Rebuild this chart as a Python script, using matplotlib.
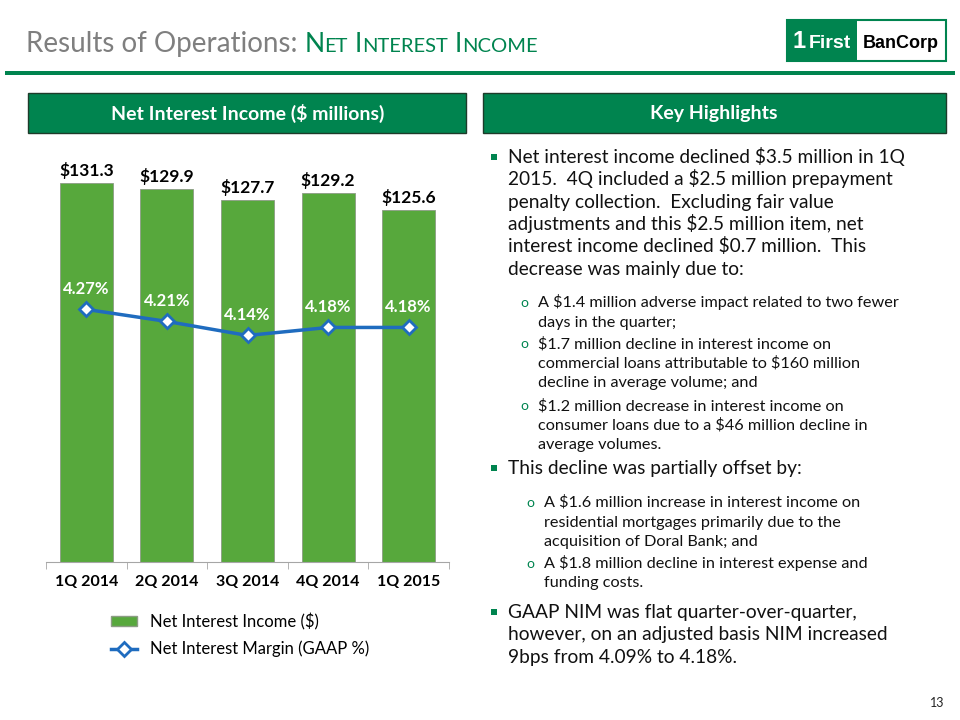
import numpy as np
import matplotlib
matplotlib.use("Agg")
import matplotlib.pyplot as plt
from matplotlib.patches import Rectangle, Patch
from matplotlib.lines import Line2D
from matplotlib.offsetbox import TextArea, HPacker, AnnotationBbox

plt.rcParams['font.family'] = ['Lato', 'DejaVu Sans']
plt.rcParams['text.parse_math'] = False

# chart data
quarters = ['1Q 2014', '2Q 2014', '3Q 2014', '4Q 2014', '1Q 2015']
nii = [131.3, 129.9, 127.7, 129.2, 125.6]      # net interest income, $ millions
nim = [4.27, 4.21, 4.14, 4.18, 4.18]           # net interest margin, GAAP %

legend_labels = ['Net Interest Income ($)', 'Net Interest Margin (GAAP %)']

# key highlights text: (level, first line y, lines)
highlights = [
    (0, 157, ["Net interest income declined $3.5 million in 1Q",
              "2015.  4Q included a $2.5 million prepayment",
              "penalty collection.  Excluding fair value",
              "adjustments and this $2.5 million item, net",
              "interest income declined $0.7 million.  This",
              "decrease was mainly due to:"]),
    (1, 302, ["A $1.4 million adverse impact related to two fewer",
              "days in the quarter;"]),
    (1, 343, ["$1.7 million decline in interest income on",
              "commercial loans attributable to $160 million",
              "decline in average volume; and"]),
    (1, 405, ["$1.2 million decrease in interest income on",
              "consumer loans due to a $46 million decline in",
              "average volumes."]),
    (0, 468, ["This decline was partially offset by:"]),
    (2, 502, ["A $1.6 million increase in interest income on",
              "residential mortgages primarily due to the",
              "acquisition of Doral Bank; and"]),
    (2, 563, ["A $1.8 million decline in interest expense and",
              "funding costs."]),
    (0, 612, ["GAAP NIM was flat quarter-over-quarter,",
              "however, on an adjusted basis NIM increased",
              "9bps from 4.09% to 4.18%."]),
]

GREEN = '#00844f'
BAR = '#57a83c'
BLUE = '#1f6cbf'
GRAY = '#7f7f7f'

W, H = 960, 720
fig = plt.figure(figsize=(9.6, 7.2), dpi=100)


def fx(x):
    return x / W


def fy(y):
    return 1 - y / H


def box(x0, y0, x1, y1, **kw):
    r = Rectangle((fx(x0), fy(y1)), (x1 - x0) / W, (y1 - y0) / H,
                  transform=fig.transFigure, **kw)
    fig.add_artist(r)


# title with small caps
def word(first, rest):
    return HPacker(children=[TextArea(first, textprops=dict(fontsize=19, color=GREEN)),
                             TextArea(rest, textprops=dict(fontsize=14.5, color=GREEN))],
                   align='baseline', pad=0, sep=0)


title = HPacker(children=[TextArea('Results of Operations:', textprops=dict(fontsize=20, color=GRAY)),
                          word('N', 'ET'), word('I', 'NTEREST'), word('I', 'NCOME')],
                align='baseline', pad=0, sep=5)
fig.add_artist(AnnotationBbox(title, (fx(26), fy(44)), xycoords='figure fraction',
                              box_alignment=(0, 0.5), frameon=False))

# green rule
box(5, 71, 955, 75, facecolor=GREEN, edgecolor='none')

# logo
box(787, 20, 946, 61, facecolor='white', edgecolor=GREEN, lw=1.5)
box(787, 20, 857, 61, facecolor=GREEN, edgecolor='none')
logo = dict(family=['Liberation Sans', 'DejaVu Sans'], fontweight='bold', va='baseline')
fig.text(fx(793), fy(48), '1', color='white', fontsize=17, **logo)
fig.text(fx(809), fy(48), 'First', color='white', fontsize=14, **logo)
fig.text(fx(901), fy(48), 'BanCorp', color='black', fontsize=13, ha='center', **logo)

# section headers
box(28, 93, 466, 133, facecolor=GREEN, edgecolor='#1e3b2a', lw=1)
box(483, 93, 946, 133, facecolor=GREEN, edgecolor='#1e3b2a', lw=1)
fig.text(fx(248), fy(113), 'Net Interest Income ($ millions)', color='white',
         fontsize=14, fontweight='bold', ha='center', va='center')
fig.text(fx(714), fy(113), 'Key Highlights', color='white',
         fontsize=14, fontweight='bold', ha='center', va='center')

# bar chart
x = np.arange(len(quarters))
ax = fig.add_axes([fx(46), fy(562), 403 / W, 425 / H])
ax.bar(x, nii, width=0.66, color=BAR, edgecolor='#8c9c84', lw=0.6, zorder=2)
ax.set_ylim(51, 141)
ax.set_xlim(-0.5, len(quarters) - 0.5)
for s in ['left', 'top', 'right']:
    ax.spines[s].set_visible(False)
ax.spines['bottom'].set_color('#a6a6a6')
ax.set_yticks([])
ax.set_xticks(x)
ax.set_xticklabels(quarters, fontsize=11.5, fontweight='bold')
ax.set_xticks(np.arange(-0.5, len(quarters), 1), minor=True)
ax.tick_params(axis='x', which='major', length=0, pad=9)
ax.tick_params(axis='x', which='minor', length=5, color='#a6a6a6')
ax.patch.set_visible(False)

for i, v in enumerate(nii):
    ax.annotate(f'${v:.1f}', (i, v), xytext=(0, 3), textcoords='offset points',
                ha='center', va='bottom', fontsize=12.5, fontweight='bold')

ax2 = ax.twinx()
ax2.plot(x, nim, color=BLUE, lw=2.5, marker='D', ms=7, mfc='white', mec=BLUE, mew=2, zorder=3)
ax2.set_ylim(3.01, 5.13)
ax2.axis('off')
for i, v in enumerate(nim):
    ax2.annotate(f'{v:.2f}%', (i, v), xytext=(0, 9), textcoords='offset points',
                 ha='center', va='bottom', fontsize=12, fontweight='bold', color='white')

handles = [Patch(facecolor=BAR, edgecolor='#8c9c84'),
           Line2D([], [], color=BLUE, lw=2.5, marker='D', ms=7, mfc='white', mec=BLUE, mew=2)]
fig.legend(handles, legend_labels, loc='upper left', bbox_to_anchor=(fx(111), fy(613)),
           frameon=False, fontsize=12, handlelength=1.55, handleheight=0.5,
           labelspacing=0.65, handletextpad=0.8, borderaxespad=0, borderpad=0)

# key highlights text
for level, y0, lines in highlights:
    if level == 0:
        step, size, tx = 22.3, 13.8, 508
        box(491, y0 - 3, 497, y0 + 3, facecolor=GREEN, edgecolor='none')
    else:
        step, size = 19.5, 11.7
        tx = 538 if level == 1 else 544
        fig.text(fx(tx - 14), fy(y0 + 5), 'o', color=GREEN, fontsize=10, ha='center', va='baseline')
    for k, line in enumerate(lines):
        fig.text(fx(tx), fy(y0 + k * step + (6 if level == 0 else 5)), line,
                 fontsize=size, color='#111111', ha='left', va='baseline')

fig.text(fx(937), fy(703), '13', fontsize=9, color='#222222', ha='center', va='center')

fig.savefig('out.png', dpi=100)
